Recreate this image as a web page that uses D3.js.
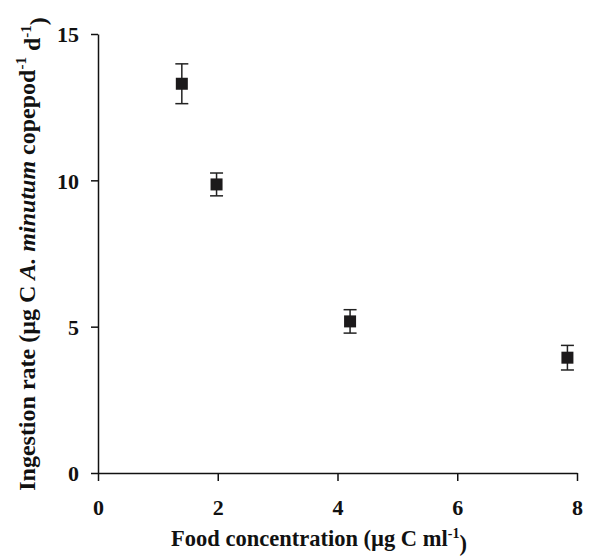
<!DOCTYPE html>
<html>
<head>
<meta charset="utf-8">
<script src="https://cdn.jsdelivr.net/npm/d3@7"></script>
<style>
  body { margin: 0; background: #fff; }
  text { font-family: "Liberation Serif", "Times New Roman", serif; font-weight: bold; fill: #111; }
  .axis path, .axis line { stroke: #111; stroke-width: 1.5; }
</style>
</head>
<body>
<div id="chart"></div>
<script>
// Data
var foodConc = [1.40, 1.98, 4.21, 7.84];
var ingestion = [13.3, 9.86, 5.18, 3.94];
var ingestionErr = [0.68, 0.39, 0.40, 0.42];
var xTicks = [0, 2, 4, 6, 8];
var yTicks = [0, 5, 10, 15];

var margin = {top: 34, right: 15, bottom: 85, left: 98},
    width = 592 - margin.left - margin.right,
    height = 558 - margin.top - margin.bottom;

var x = d3.scaleLinear().domain([0, 8]).range([0, width]);
var y = d3.scaleLinear().domain([0, 15]).range([height, 0]);

var svg = d3.select("#chart")
  .append("svg")
  .attr("width", 592)
  .attr("height", 558)
  .append("g")
  .attr("transform", "translate(" + margin.left + "," + margin.top + ")");

// Axes
var xAxis = svg.append("g")
    .attr("class", "axis")
    .attr("transform", "translate(0," + height + ")")
    .call(d3.axisBottom(x).tickValues(xTicks).tickSize(8).tickSizeOuter(0).tickPadding(18));

var yAxis = svg.append("g")
    .attr("class", "axis")
    .call(d3.axisLeft(y).tickValues(yTicks).tickSize(7).tickSizeOuter(0).tickPadding(12));

svg.selectAll(".axis text")
    .style("font-size", "22px")
    .style("font-family", "'Liberation Serif', serif")
    .style("font-weight", "bold")
    .attr("fill", "#111");
yAxis.selectAll("text").attr("dy", "0.35em");

// Error bars
var data = foodConc.map(function(d, i) {
  return {x: d, y: ingestion[i], e: ingestionErr[i]};
});

var capW = 6.5;
var err = svg.append("g").attr("stroke", "#222").attr("stroke-width", 1.5);
err.selectAll(".stem").data(data).enter().append("line")
    .attr("x1", function(d) { return x(d.x); })
    .attr("x2", function(d) { return x(d.x); })
    .attr("y1", function(d) { return y(d.y + d.e); })
    .attr("y2", function(d) { return y(d.y - d.e); });
err.selectAll(".capTop").data(data).enter().append("line")
    .attr("x1", function(d) { return x(d.x) - capW; })
    .attr("x2", function(d) { return x(d.x) + capW; })
    .attr("y1", function(d) { return y(d.y + d.e); })
    .attr("y2", function(d) { return y(d.y + d.e); });
err.selectAll(".capBot").data(data).enter().append("line")
    .attr("x1", function(d) { return x(d.x) - capW; })
    .attr("x2", function(d) { return x(d.x) + capW; })
    .attr("y1", function(d) { return y(d.y - d.e); })
    .attr("y2", function(d) { return y(d.y - d.e); });

// Square markers
var size = 12;
svg.selectAll(".pt").data(data).enter().append("rect")
    .attr("x", function(d) { return x(d.x) - size / 2; })
    .attr("y", function(d) { return y(d.y) - size / 2; })
    .attr("width", size)
    .attr("height", size)
    .attr("fill", "#1c1a1b");

// X axis title
var xt = svg.append("text")
    .attr("x", 221)
    .attr("y", height + 73)
    .attr("text-anchor", "middle")
    .style("font-size", "22.5px");
xt.append("tspan").text("Food concentration (\u00b5g C ml");
xt.append("tspan").attr("dy", "-0.6em").style("font-size", "14px").text("-1");
xt.append("tspan").attr("dy", "0.6em").text(")");

// Y axis title
var yt = svg.append("text")
    .attr("transform", "translate(" + (35 - margin.left) + "," + (254 - margin.top) + ") rotate(-90)")
    .attr("text-anchor", "middle")
    .style("font-size", "24px");
yt.append("tspan").text("Ingestion rate (\u00b5g C ");
yt.append("tspan").style("font-style", "italic").text("A. minutum");
yt.append("tspan").text(" copepod");
yt.append("tspan").attr("dy", "-0.6em").style("font-size", "15px").text("-1");
yt.append("tspan").attr("dy", "0.6em").text(" d");
yt.append("tspan").attr("dy", "-0.6em").style("font-size", "15px").text("-1");
yt.append("tspan").attr("dy", "0.6em").text(")");
</script>
</body>
</html>
